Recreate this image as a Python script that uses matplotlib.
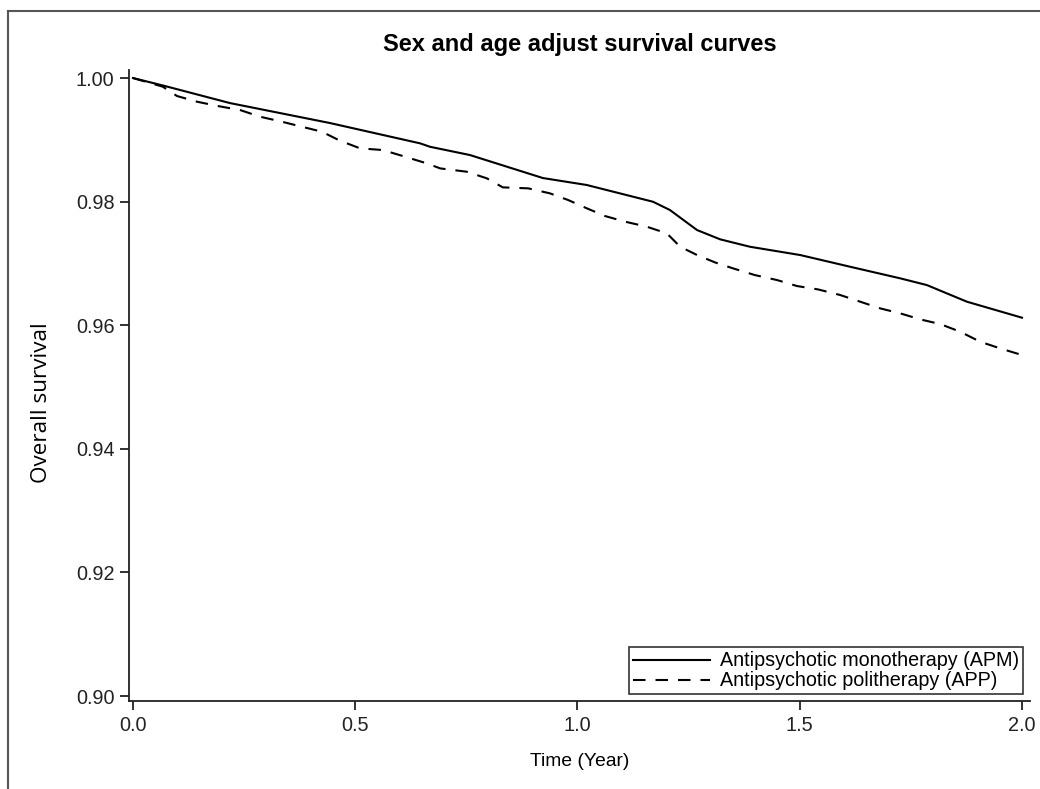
import matplotlib
matplotlib.use("Agg")
import matplotlib.pyplot as plt
from matplotlib.lines import Line2D

# ---- data ----
apm_time = [0.0, 0.067, 0.218, 0.443, 0.646, 0.668, 0.758, 0.922, 1.021, 1.170,
            1.208, 1.269, 1.321, 1.388, 1.501, 1.613, 1.726, 1.786, 1.876, 2.0]
apm_surv = [1.0, 0.9988, 0.99595, 0.99272, 0.98943, 0.98888, 0.98754, 0.98382, 0.98269, 0.97998,
            0.97864, 0.97540, 0.97390, 0.97270, 0.97136, 0.96947, 0.96759, 0.96650, 0.96381, 0.96122]

app_time = [0.0, 0.067, 0.099, 0.144, 0.191, 0.241, 0.286, 0.335, 0.380, 0.425,
            0.466, 0.511, 0.562, 0.607, 0.661, 0.691, 0.751, 0.796, 0.832, 0.889,
            0.938, 0.979, 1.021, 1.062, 1.107, 1.156, 1.201, 1.231, 1.269, 1.310,
            1.350, 1.399, 1.449, 1.494, 1.541, 1.591, 1.636, 1.681, 1.726, 1.771,
            1.816, 1.861, 1.906, 1.951, 2.0]
app_surv = [1.0, 0.9986, 0.99709, 0.99617, 0.99547, 0.99482, 0.99374, 0.99293, 0.99212, 0.99131,
            0.98985, 0.98862, 0.98835, 0.98738, 0.98619, 0.98538, 0.98484, 0.98377, 0.98231, 0.98215,
            0.98134, 0.98026, 0.97892, 0.97767, 0.97676, 0.97594, 0.97487, 0.97270, 0.97136, 0.97015,
            0.96920, 0.96812, 0.96731, 0.96634, 0.96580, 0.96489, 0.96381, 0.96273, 0.96192, 0.96095,
            0.96019, 0.95895, 0.95733, 0.95625, 0.95518]

series_labels = ["Antipsychotic monotherapy (APM)", "Antipsychotic politherapy (APP)"]
x_ticks = [0.0, 0.5, 1.0, 1.5, 2.0]
x_ticklabels = ["0.0", "0.5", "1.0", "1.5", "2.0"]
y_ticks = [0.90, 0.92, 0.94, 0.96, 0.98, 1.00]
y_ticklabels = ["0.90", "0.92", "0.94", "0.96", "0.98", "1.00"]

title = "Sex and age adjust survival curves"
xlabel = "Time (Year)"
ylabel = "Overall survival"

# ---- figure ----
plt.rcParams["font.family"] = ["Liberation Sans", "DejaVu Sans"]
fig = plt.figure(figsize=(10.4, 7.89), dpi=100)
ax = fig.add_axes([129 / 1040, 1 - 701 / 789, (1030 - 129) / 1040, (701 - 70) / 789])

ax.plot(apm_time, apm_surv, color="black", lw=1.5, solid_joinstyle="round",
        label=series_labels[0])
ax.plot(app_time, app_surv, color="black", lw=1.5, linestyle=(0, (6.0, 4.8)),
        label=series_labels[1])

ax.set_xlim(-0.009, 2.018)
ax.set_ylim(0.8992, 1.0013)
ax.set_xticks(x_ticks)
ax.set_xticklabels(x_ticklabels)
ax.set_yticks(y_ticks)
ax.set_yticklabels(y_ticklabels)

for s in ["top", "right"]:
    ax.spines[s].set_visible(False)
for s in ["left", "bottom"]:
    ax.spines[s].set_linewidth(1.3)
    ax.spines[s].set_color("#222222")
ax.tick_params(axis="both", direction="out", length=6.5, width=1.3,
               labelsize=14.3, pad=4, color="#222222", labelcolor="#222222")

leg = ax.legend(loc="lower right", fontsize=14.2, frameon=True, fancybox=False,
                borderaxespad=0.35, handlelength=3.9, handletextpad=0.5,
                borderpad=0.2, labelspacing=0.05, handleheight=0.6)
leg.get_frame().set_edgecolor("black")
leg.get_frame().set_linewidth(1.2)

fig.text((129 + 1030) / 2 / 1040, 1 - 45 / 789, title, ha="center", va="center",
         fontsize=17, fontweight="bold")
fig.text((129 + 1030) / 2 / 1040, 1 - 762 / 789, xlabel, ha="center", va="center",
         fontsize=13.9)
fig.text(42 / 1040, 1 - 403 / 789, ylabel, ha="center", va="center", rotation=90,
         fontsize=16.2, family=["Open Sans", "DejaVu Sans"])

# outer frame (top and left edges visible in reference)
fig.add_artist(Line2D([8 / 1040, 1.0], [1 - 11 / 789, 1 - 11 / 789],
                      transform=fig.transFigure, color="#555555", lw=1.5))
fig.add_artist(Line2D([8 / 1040, 8 / 1040], [0.0, 1 - 11 / 789],
                      transform=fig.transFigure, color="#555555", lw=1.5))

fig.savefig("out.png", dpi=100)
